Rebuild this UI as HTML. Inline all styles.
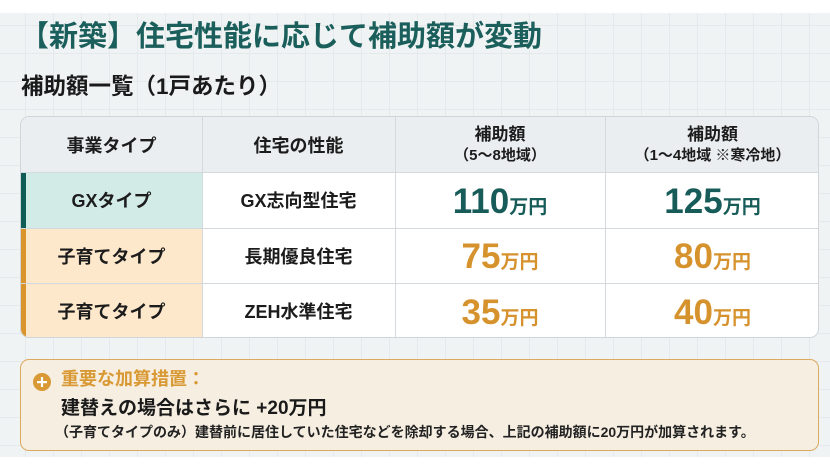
<!DOCTYPE html>
<html><head><meta charset="utf-8">
<style>
*{margin:0;padding:0;box-sizing:border-box}
html,body{width:830px;height:470px;background:#fff;overflow:hidden}
body{position:relative;font-family:"Liberation Sans","Noto Sans CJK JP",sans-serif;color:#1c1c1c}
.bg{position:absolute;left:0;top:13px;width:830px;height:444px;background-color:#f0f3f4;
background-image:linear-gradient(to right,#e5e9eb 1px,transparent 1px),linear-gradient(to bottom,#e5e9eb 1px,transparent 1px);
background-size:28px 28px;background-position:25px 12px}
.abs{position:absolute}
.title{left:20px;top:23px;font-size:29px;line-height:29px;font-weight:bold;color:#1a5f5b;white-space:nowrap}
.sub{left:21px;top:76px;font-size:22.5px;line-height:22px;font-weight:bold;color:#1a1a1a;white-space:nowrap}
.table{left:20px;top:116px;width:799px;height:222px;border:1px solid #cfd5d8;border-radius:9px;overflow:hidden;background:#fff}
.cell{position:absolute;display:flex;align-items:center;justify-content:center;text-align:center;font-weight:bold;font-size:18px;white-space:nowrap}
.hd{background:#eaeef0}
.vl{position:absolute;width:1px;background:#d3d9dc}
.hl{position:absolute;height:1px;background:#d3d9dc}
.val{position:absolute;text-align:center;height:35px;line-height:35px;font-weight:bold;white-space:nowrap}
.num{font-size:35px}
.unit{font-size:19px;font-family:"Liberation Sans","Noto Sans CJK JP",sans-serif}
.teal{color:#175c58}
.org{color:#d6922c}
.note{left:20px;top:359px;width:799px;height:92px;background:#f6eee1;border:1.5px solid #dcaa5e;border-radius:9px}
</style></head><body>
<div class="bg"></div>
<div class="abs title">【新築】住宅性能に応じて補助額が変動</div>
<div class="abs sub">補助額一覧（1戸あたり）</div>

<div class="abs table">
  <!-- header -->
  <div class="cell hd" style="left:0;top:0;width:181px;height:55px;font-size:18px">事業タイプ</div>
  <div class="cell hd" style="left:181px;top:0;width:193px;height:55px;font-size:18px">住宅の性能</div>
  <div class="cell hd" style="left:374px;top:0;width:210px;height:55px;flex-direction:column;line-height:1.3">
    <div style="font-size:17px">補助額</div>
    <div style="font-size:15px">（5～8地域）</div>
  </div>
  <div class="cell hd" style="left:584px;top:0;width:215px;height:55px;flex-direction:column;line-height:1.3">
    <div style="font-size:17px">補助額</div>
    <div style="font-size:15px">（1～4地域 ※寒冷地）</div>
  </div>
  <!-- col1 -->
  <div class="cell" style="left:0;top:55px;width:181px;height:56px;background:#d2ebe6">GXタイプ</div>
  <div class="abs" style="left:0;top:55px;width:5px;height:56px;background:#0f5c56"></div>
  <div class="cell" style="left:0;top:111px;width:181px;height:55px;background:#fde8cb">子育てタイプ</div>
  <div class="cell" style="left:0;top:166px;width:181px;height:56px;background:#fde8cb">子育てタイプ</div>
  <div class="abs" style="left:0;top:111px;width:5px;height:111px;background:#d9952b"></div>
  <!-- col2 -->
  <div class="cell" style="left:181px;top:55px;width:193px;height:56px">GX志向型住宅</div>
  <div class="cell" style="left:181px;top:111px;width:193px;height:55px">長期優良住宅</div>
  <div class="cell" style="left:181px;top:166px;width:193px;height:56px">ZEH水準住宅</div>
  <!-- values -->
  <div class="val teal" style="left:374px;width:210px;top:67px"><span class="num">110</span><span class="unit">万円</span></div>
  <div class="val teal" style="left:584px;width:215px;top:67px"><span class="num">125</span><span class="unit">万円</span></div>
  <div class="val org" style="left:374px;width:210px;top:122px"><span class="num">75</span><span class="unit">万円</span></div>
  <div class="val org" style="left:584px;width:215px;top:122px"><span class="num">80</span><span class="unit">万円</span></div>
  <div class="val org" style="left:374px;width:210px;top:178px"><span class="num">35</span><span class="unit">万円</span></div>
  <div class="val org" style="left:584px;width:215px;top:178px"><span class="num">40</span><span class="unit">万円</span></div>
  <!-- lines -->
  <div class="vl" style="left:181px;top:0;height:222px"></div>
  <div class="vl" style="left:374px;top:0;height:222px"></div>
  <div class="vl" style="left:584px;top:0;height:222px"></div>
  <div class="hl" style="left:0;top:55px;width:799px"></div>
  <div class="hl" style="left:0;top:111px;width:799px"></div>
  <div class="hl" style="left:0;top:166px;width:799px"></div>
</div>

<div class="abs note"></div>
<svg class="abs" style="left:32px;top:372px" width="20" height="20" viewBox="0 0 20 20">
  <circle cx="10" cy="10" r="9" fill="#d99a35"/>
  <rect x="5" y="9" width="10" height="2.2" fill="#fff"/>
  <rect x="8.9" y="5" width="2.2" height="10" fill="#fff"/>
</svg>
<div class="abs" style="left:61px;top:370px;font-size:18px;line-height:18px;font-weight:bold;color:#d99a35;white-space:nowrap">重要な加算措置：</div>
<div class="abs" style="left:61px;top:399px;font-size:19px;line-height:19px;font-weight:bold;color:#1a1a1a;white-space:nowrap">建替えの場合はさらに +20万円</div>
<div class="abs" style="left:55px;top:425px;font-size:14px;line-height:14px;font-weight:bold;color:#222;white-space:nowrap">（子育てタイプのみ）建替前に居住していた住宅などを除却する場合、上記の補助額に20万円が加算されます。</div>
</body></html>
